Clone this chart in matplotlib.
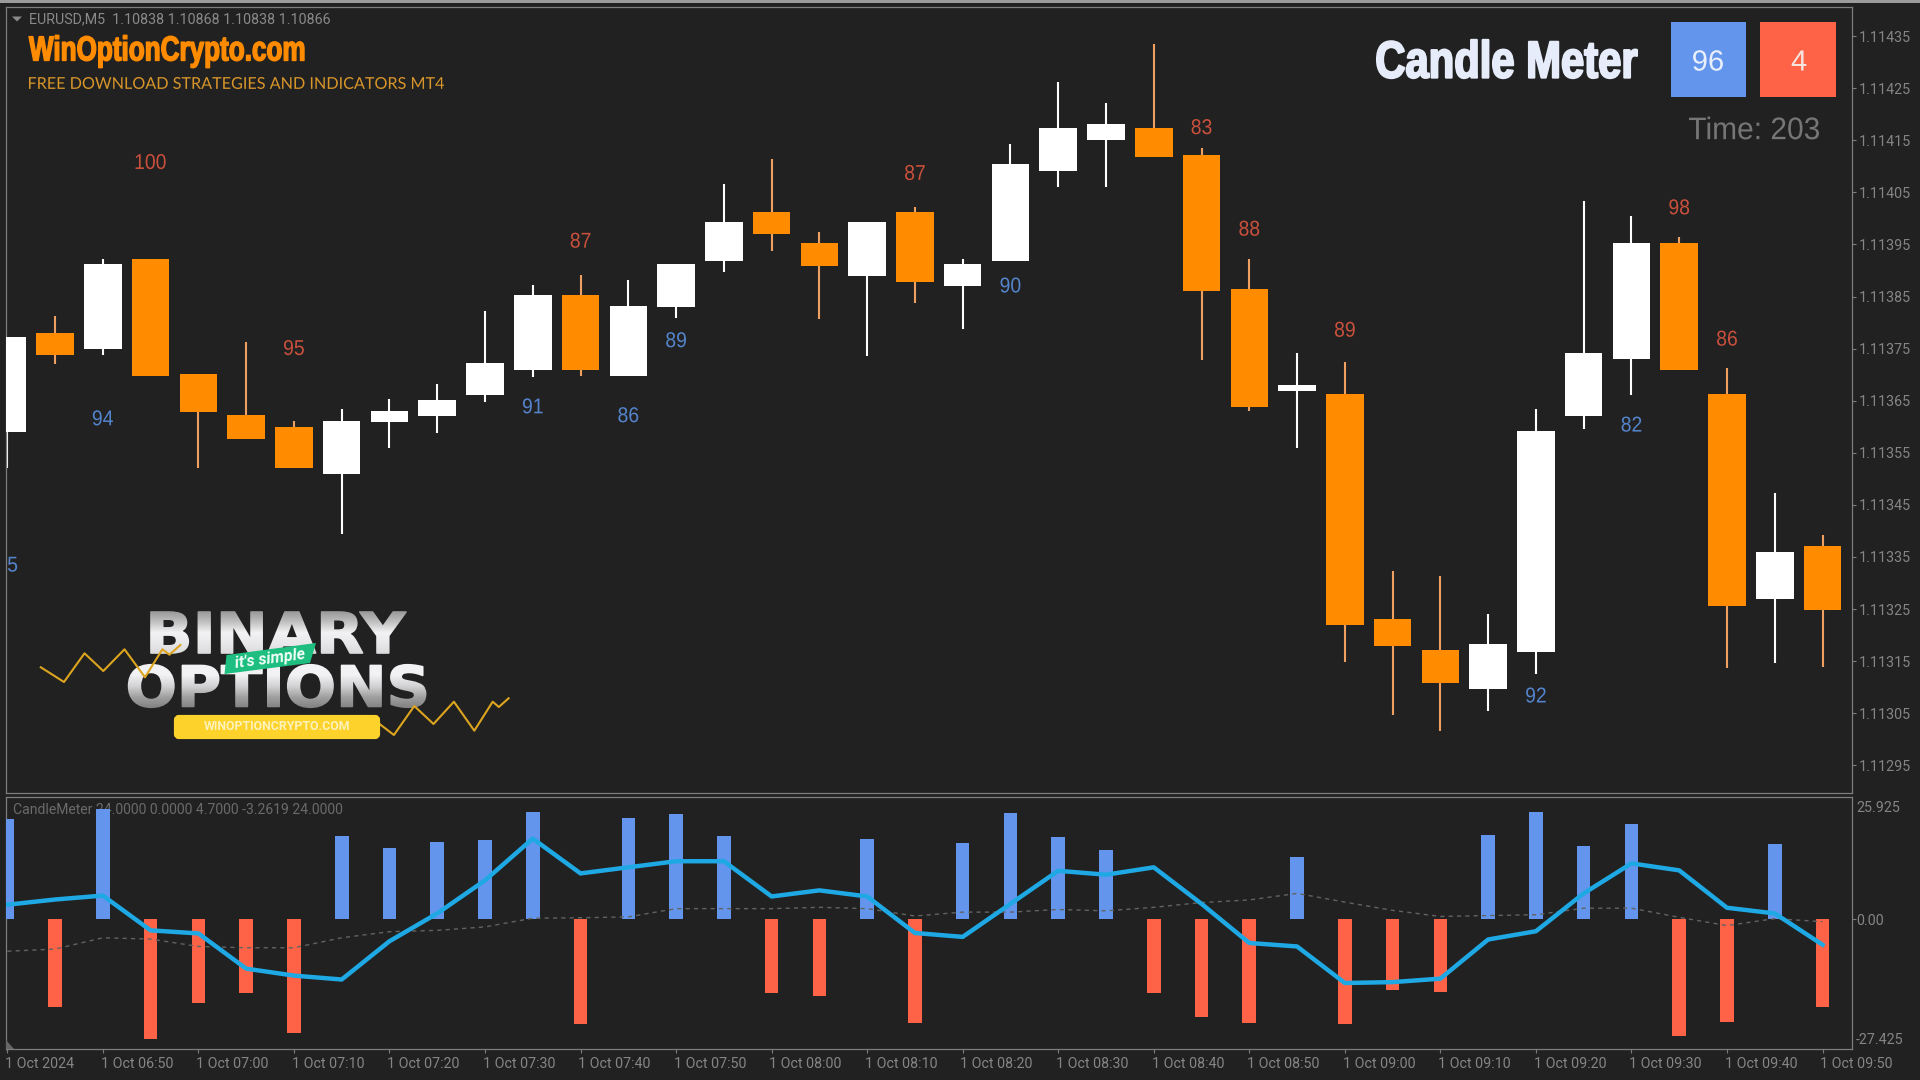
import matplotlib
matplotlib.use("Agg")
import numpy as np
import matplotlib.pyplot as plt
from matplotlib.patches import Rectangle, Polygon, FancyBboxPatch
from matplotlib.text import Text
from matplotlib.textpath import TextPath
from matplotlib.transforms import Affine2D, ScaledTranslation
from matplotlib.colors import to_rgb

# ---------- data ----------
opens = [1.113590,1.113780,1.113749,1.113922,1.113701,1.113623,1.113600,1.113509,1.113609,1.113621,
         1.113661,1.113709,1.113853,1.113697,1.113830,1.113918,1.114012,1.113953,1.113889,1.114012,
         1.113870,1.113918,1.114091,1.114150,1.114173,1.114122,1.113864,1.113669,1.113663,1.113231,
         1.113172,1.113097,1.113168,1.113621,1.113730,1.113953,1.113663,1.113269,1.113371]
highs = [1.113772,1.113813,1.113922,1.113922,1.113701,1.113763,1.113611,1.113634,1.113653,1.113682,
         1.113822,1.113872,1.113891,1.113882,1.113912,1.114066,1.114114,1.113974,1.113993,1.114022,
         1.113922,1.114143,1.114262,1.114221,1.114335,1.114135,1.113922,1.113742,1.113724,1.113323,
         1.113314,1.113241,1.113634,1.114033,1.114005,1.113964,1.113713,1.113473,1.113392]
lows = [1.113521,1.113720,1.113738,1.113697,1.113521,1.113577,1.113521,1.113394,1.113559,1.113588,
        1.113648,1.113695,1.113697,1.113697,1.113809,1.113897,1.113937,1.113807,1.113736,1.113838,
        1.113788,1.113918,1.114060,1.114060,1.114118,1.113728,1.113630,1.113559,1.113149,1.113047,
        1.113016,1.113054,1.113125,1.113596,1.113661,1.113709,1.113137,1.113147,1.113139]
closes = [1.113772,1.113738,1.113912,1.113697,1.113628,1.113577,1.113521,1.113611,1.113630,1.113651,
          1.113722,1.113853,1.113709,1.113832,1.113912,1.113993,1.113970,1.113909,1.113993,1.113878,
          1.113912,1.114104,1.114173,1.114181,1.114118,1.113861,1.113638,1.113680,1.113220,1.113179,
          1.113108,1.113183,1.113592,1.113742,1.113953,1.113709,1.113256,1.113360,1.113248]

meter_hist = [23.0,-20.2,25.4,-27.4,-19.1,-17.0,-26.0,19.2,16.5,17.9,18.2,24.7,-24.0,23.4,24.2,19.1,
              -16.9,-17.5,18.6,-23.9,17.7,24.5,18.9,16.0,-16.9,-22.5,-23.9,14.4,-24.1,-16.2,-16.7,
              19.5,24.7,16.9,22.0,-26.7,-23.6,17.3,-20.2]
meter_line = [3.4,4.6,5.5,-2.5,-3.2,-11.3,-12.9,-13.8,-5.0,1.4,9.0,18.6,10.6,12.0,13.4,13.4,5.3,6.7,
              5.3,-3.1,-4.0,3.6,11.2,10.3,12.0,3.6,-5.4,-6.2,-14.6,-14.4,-13.6,-4.6,-2.7,6.0,12.9,
              11.3,2.7,1.4,-5.8]
meter_signal = [-7.3,-6.8,-4.2,-4.5,-6.2,-6.5,-6.5,-4.2,-2.8,-2.5,-1.7,0.3,0.4,0.6,2.5,2.5,2.5,2.8,
                2.5,0.8,1.7,1.7,2.3,2.0,2.8,3.9,4.5,6.0,4.0,2.1,0.7,0.9,1.1,2.6,2.6,0.5,-1.4,0.2,-0.5]

score_up_idx = [3,6,12,19,25,26,28,35,36]
score_up_txt = ["100","95","87","87","83","88","89","98","86"]
score_up_price = [1.114109,1.113752,1.113958,1.114088,1.114176,1.113981,1.113787,1.114022,1.113770]
score_dn_idx = [0.11,2,11,13,14,21,32,34]
score_dn_txt = ["5","94","91","86","89","90","92","82"]
score_dn_price = [1.113336,1.113617,1.113640,1.113623,1.113767,1.113872,1.113085,1.113605]

price_ticks = [1.11435,1.11425,1.11415,1.11405,1.11395,1.11385,1.11375,1.11365,1.11355,1.11345,
               1.11335,1.11325,1.11315,1.11305,1.11295]
time_labels = ["1 Oct 2024","1 Oct 06:50","1 Oct 07:00","1 Oct 07:10","1 Oct 07:20","1 Oct 07:30",
               "1 Oct 07:40","1 Oct 07:50","1 Oct 08:00","1 Oct 08:10","1 Oct 08:20","1 Oct 08:30",
               "1 Oct 08:40","1 Oct 08:50","1 Oct 09:00","1 Oct 09:10","1 Oct 09:20","1 Oct 09:30",
               "1 Oct 09:40","1 Oct 09:50"]
meter_ticks = [25.925,0.0,-27.425]
meter_tick_labels = ["25.925","0.00","-27.425"]

# ---------- style ----------
BG = "#212121"; FRAME = "#7d7d7d"; TICK = "#858585"
ORANGE = "#FF8C00"; WICK_O = "#EFA060"; WHITE = "#FFFFFF"
BLUE = "#6495ED"; RED = "#FF6347"; LINE = "#1EA8E4"; SIGNAL = "#626262"
UI = ["Roboto", "DejaVu Sans"]
NUM = ["Liberation Sans", "DejaVu Sans"]
W, H = 1920, 1080


class FitText(Text):
    """Real text whose glyphs are squeezed horizontally and centred on their ink."""
    def __init__(self, x, y, s, width=None, xscale=1.0, stroke=0.0, **kw):
        super().__init__(x, y, s, **kw)
        self._fit_w, self._fit_x, self._fit_s = width, xscale, stroke

    def _glyphs(self):
        fp = self.get_fontproperties()
        tp = TextPath((0, 0), self.get_text(), size=fp.get_size_in_points()*self.get_figure().dpi/72, prop=fp)
        e = tp.get_extents()
        sx = self._fit_w/e.width if self._fit_w else self._fit_x
        px, py = self.get_transform().transform(self.get_unitless_position())
        dx = -e.x0 if self.get_horizontalalignment() == "left" else -(e.x0+e.x1)/2
        tr = Affine2D().translate(dx, -(e.y0+e.y1)/2).scale(sx, 1).translate(px, py)
        return tp, tr

    def get_window_extent(self, renderer=None, dpi=None):
        tp, tr = self._glyphs()
        return tr.transform_path(tp).get_extents()

    def draw(self, renderer):
        if not self.get_visible():
            return
        tp, tr = self._glyphs()
        gc = renderer.new_gc()
        gc.set_foreground(self.get_color())
        gc.set_linewidth(self._fit_s)
        gc.set_antialiased(True)
        renderer.draw_path(gc, tp, tr, to_rgb(self.get_color()))
        gc.restore()
        self.stale = False


def box(l, t, r, b):
    return [l/W, 1-b/H, (r-l)/W, (b-t)/H]

fig = plt.figure(figsize=(19.2, 10.8), dpi=100, facecolor=BG)
ax = fig.add_axes(box(5.5, 7, 1852, 793), facecolor=BG)
ax2 = fig.add_axes(box(5.5, 797, 1852, 1049), facecolor=BG)
xlim = (-0.038, 38.617)

n = len(opens)
xs = np.arange(n)
for a in (ax, ax2):
    a.set_xlim(*xlim)
    for s in a.spines.values():
        s.set_color(FRAME); s.set_linewidth(0.9)

# ---------- candles ----------
ax.set_ylim(1.1128970, 1.1144057)
for i in xs:
    up = closes[i] >= opens[i]
    ax.vlines(i, lows[i], highs[i], color=WHITE if up else WICK_O, lw=1.5, zorder=2)
    lo, hi = min(opens[i], closes[i]), max(opens[i], closes[i])
    ax.bar(i, hi-lo, bottom=lo, width=0.785, color=WHITE if up else ORANGE, linewidth=0, zorder=3)
for i, t, p in zip(score_up_idx, score_up_txt, score_up_price):
    ax.add_artist(FitText(i, p, t, xscale=0.9, color="#C9503C", fontsize=15.5, family=NUM,
                          ha="center", transform=ax.transData, zorder=4))
for i, t, p in zip(score_dn_idx, score_dn_txt, score_dn_price):
    ax.add_artist(FitText(i, p, t, xscale=0.9, color="#5484CC", fontsize=15.5, family=NUM,
                          ha="center", transform=ax.transData, zorder=4))
ax.set_xticks([])
ax.yaxis.tick_right()
ax.set_yticks(price_ticks)
ax.set_yticklabels([f"{p:.5f}" for p in price_ticks], family=UI, fontsize=10.3, color=TICK)
ax.tick_params(axis="y", length=3, width=0.8, color=FRAME, pad=2)

# ---------- indicator ----------
ax2.set_ylim(-29.78, 28.17)
ax2.bar(xs, meter_hist, width=0.285, color=[BLUE if v > 0 else RED for v in meter_hist],
        linewidth=0, zorder=3)
ax2.plot(xs, meter_signal, color=SIGNAL, lw=1.0, dashes=(3, 3), zorder=4)
ax2.plot(xs, meter_line, color=LINE, lw=3.2, solid_joinstyle="round", zorder=5)
ax2.text(0.12, 25.1, "CandleMeter 24.0000 0.0000 4.7000 -3.2619 24.0000", color="#6a6a6a",
         fontsize=10.1, family=UI, ha="left", va="center", zorder=1)
ax2.yaxis.tick_right()
ax2.set_yticks(meter_ticks)
ax2.set_yticklabels(meter_tick_labels, family=UI, fontsize=10.3, color=TICK)
ax2.tick_params(axis="y", length=3, width=0.8, color=FRAME, pad=0)
for k, t in enumerate(ax2.yaxis.get_major_ticks()):
    t.tick2line.set_visible(k == 1)
ax2.set_xticks(np.arange(0, n, 2))
ax2.set_xticklabels(time_labels, family=UI, fontsize=10.3, color=TICK, ha="left")
ax2.tick_params(axis="x", length=3, width=0.8, color=FRAME, pad=3)
shift = ScaledTranslation(-2.2/100, 0, fig.dpi_scale_trans)
for lab in ax2.get_xticklabels():
    lab.set_transform(lab.get_transform() + shift)

# ---------- overlay in pixel coordinates ----------
ov = fig.add_axes([0, 0, 1, 1], facecolor="none", zorder=5)
ov.set_xlim(0, W); ov.set_ylim(H, 0); ov.axis("off")
ov.add_patch(Rectangle((0, 0), W, 2.5, color="#9c9c9c", lw=0))
ov.add_patch(Polygon([(6, 1040), (14, 1049), (6, 1049)], color="#666666", lw=0))

def fit(x, y, s, **kw):
    t = FitText(x, y, s, transform=ov.transData, **kw)
    ov.add_artist(t)
    return t

# header
ov.add_patch(Polygon([(12, 16.5), (22, 16.5), (17, 21.5)], color="#8a8a8a", lw=0))
ov.text(29, 19, "EURUSD,M5  1.10838 1.10868 1.10838 1.10866", color="#8a8a8a", fontsize=10.3,
        family=UI, ha="left", va="center")
fit(29, 51.5, "WinOptionCrypto.com", width=275, stroke=1.0, color=ORANGE, fontsize=25,
    family=NUM, weight="bold", ha="left")
fit(29, 83, "FREE DOWNLOAD STRATEGIES AND INDICATORS MT4", width=415, color="#D8952A", fontsize=11.8,
    family=["Lato", "DejaVu Sans"], ha="left")

# meter panel
fit(1377, 59, "Candle Meter", width=260, stroke=1.5, color="#E6ECFA", fontsize=37.5,
    family=NUM, weight="bold", ha="left")
ov.add_patch(Rectangle((1670.5, 22), 75, 75, color=BLUE, lw=0))
ov.add_patch(Rectangle((1760, 22), 76, 75, color=RED, lw=0))
fit(1708, 60.5, "96", color="#EAF0FA", fontsize=21, family=NUM, ha="center")
fit(1799, 60.5, "4", color="#F3E6E0", fontsize=21, family=NUM, ha="center")
fit(1689, 128, "Time: 203", width=130, color="#767676", fontsize=22.5, family=NUM, ha="left")

# logo
LOGO = ["DejaVu Sans"]
fit(151, 632.5, "BINARY", width=255, stroke=1.2, color="#F2F2F4", fontsize=40.5, family=LOGO,
    weight="bold", ha="left", zorder=3)
fit(128.6, 686, "OPTIONS", width=297, stroke=1.2, color="#F2F2F4", fontsize=40.5, family=LOGO,
    weight="bold", ha="left", zorder=3)
bg_rgb = to_rgb(BG)
def fade(t, b, alphas):
    ys = np.linspace(0, 1, 64)
    al = np.interp(ys, np.linspace(0, 1, len(alphas)), alphas)
    img = np.zeros((64, 1, 4)); img[..., :3] = bg_rgb; img[..., 3] = al[:, None]
    ov.imshow(img, extent=(120, 435, b, t), aspect="auto", interpolation="bilinear", zorder=3.1)
fade(610, 655, [0.45, 0.25, 0.0, 0.05, 0.12])
fade(663, 709, [0.0, 0.0, 0.15, 0.4, 0.55])
ov.set_xlim(0, W); ov.set_ylim(H, 0)
zig_l = [(40.8,667.3),(64,682),(84.5,653.3),(103.3,671),(124.5,649.3),(145,677.3),(162.4,649.3),(169.4,654.7),(180.4,645)]
zig_r = [(379.6,724),(393.9,735),(414.3,706),(433.5,724),(453.9,701.7),(474.3,730.7),(492.7,701.7),(498.8,707),(508.6,698.3)]
for z in (zig_l, zig_r):
    ov.plot(*zip(*z), color="#DDA51F", lw=1.5, zorder=3.5)
ov.add_patch(Polygon([(226.5, 655), (316, 643), (310, 663), (224.5, 674)], color="#1DBE7F", lw=0, zorder=4))
ov.text(270, 659, "it's simple", color="#F0FFF8", fontsize=11.5, style="italic", weight="bold",
        family=UI, rotation=7.5, ha="center", va="center", zorder=5)
ov.add_patch(FancyBboxPatch((176, 717), 202, 20, boxstyle="round,pad=0,rounding_size=3", mutation_aspect=1,
                            facecolor="#FDD22B", edgecolor="#FDD22B", lw=3, zorder=4))
ov.text(277.5, 727, "WINOPTIONCRYPTO.COM", color="#FFF2B8", fontsize=8.9, weight="bold", family=UI,
        ha="center", va="center", zorder=5)

fig.savefig("out.png", dpi=100, facecolor=BG)
